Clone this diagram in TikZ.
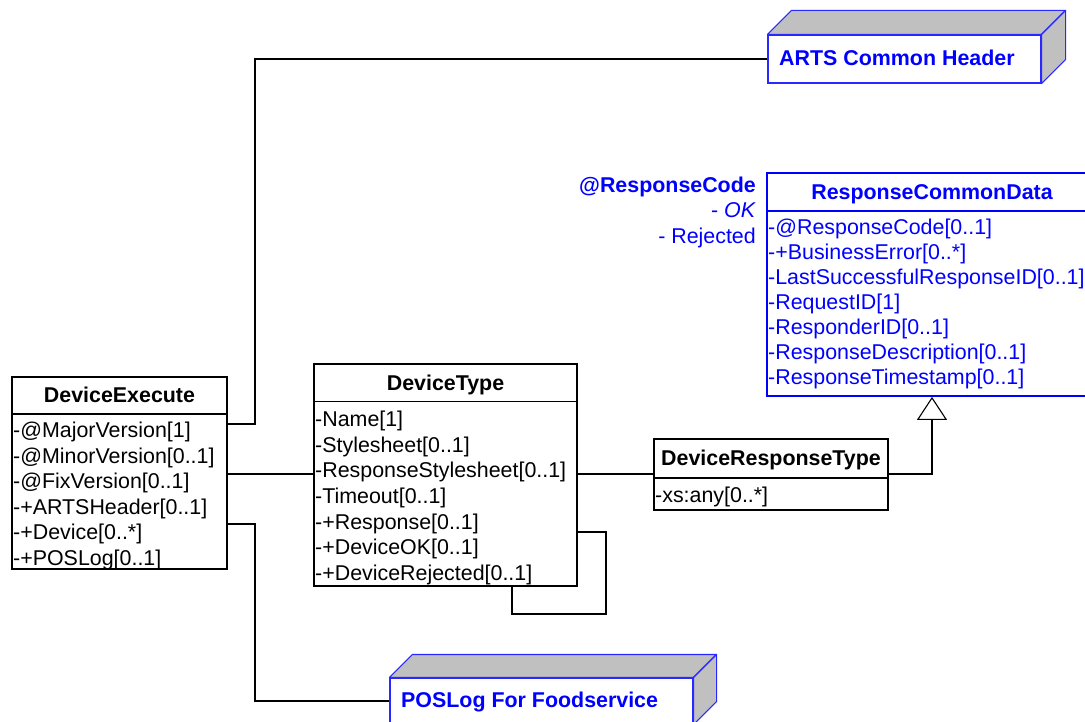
\documentclass[tikz,border=0pt]{standalone}
\usepackage{fontspec}
\setmainfont{Liberation Sans}
\usetikzlibrary{fit,arrows.meta}
\definecolor{umlblue}{RGB}{0,0,255}
\definecolor{edgeblue}{RGB}{40,40,255}
\definecolor{facegray}{RGB}{192,192,192}
\newcommand{\umlfont}{\fontsize{21.4}{25}\selectfont}
\tikzset{
  txt/.style={inner sep=0pt, font=\umlfont},
  attr/.style={txt, anchor=base west},
  head/.style={txt, anchor=base, font=\umlfont\bfseries},
  classbox/.style={draw=black, line width=1.6pt, inner sep=0pt, fill=white},
  bluebox/.style={draw=umlblue, line width=1.8pt, inner sep=0pt, fill=white},
  pkgfront/.style={draw=edgeblue, line width=1.1pt, inner sep=0pt, fill=white},
  pkgface/.style={draw=edgeblue, line width=1.1pt, fill=facegray, line join=round},
  conn/.style={draw=black, line width=1.1pt},
  generalization/.style={conn, -{Triangle[open, length=23pt, width=30pt, line width=1.1pt]}}
}
\begin{document}
\begin{tikzpicture}[x=1pt, y=-1pt]
\useasboundingbox (0,0) rectangle (1085,722);

% ---------- package boxes (3D) ----------
\node[pkgfront, fit={(768,35) (1041,83)}] (arts) {};
\filldraw[pkgface] (arts.north west) -- ++(24,-24) -- ([shift={(24,-24)}]arts.north east) -- (arts.north east) -- cycle;
\filldraw[pkgface] (arts.north east) -- ++(24,-24) -- ([shift={(24,-24)}]arts.south east) -- (arts.south east) -- cycle;
\node[txt, anchor=base west, text=umlblue, font=\umlfont\bfseries] (artslabel) at (779,66) {ARTS Common Header};

\node[pkgfront, fit={(390,678) (693,724)}] (pos) {};
\filldraw[pkgface] (pos.north west) -- ++(23,-23) -- ([shift={(23,-23)}]pos.north east) -- (pos.north east) -- cycle;
\filldraw[pkgface] (pos.north east) -- ++(23,-23) -- ([shift={(23,-23)}]pos.south east) -- (pos.south east) -- cycle;
\node[txt, anchor=base west, text=umlblue, font=\umlfont\bfseries] (poslabel) at (401,707.5) {POSLog For Foodservice};

% ---------- DeviceExecute ----------
\node[classbox, fit={(12,377) (227,569)}] (de) {};
\draw[line width=1.6pt] (de.west |- 0,414) -- (de.east |- 0,414);
\node[head] (dehead) at (119.5,402.5) {DeviceExecute};
\foreach \t [count=\i from 0] in {-@MajorVersion[1],-@MinorVersion[0..1],-@FixVersion[0..1],-+ARTSHeader[0..1],-+Device[0..*],-+POSLog[0..1]}
  \node[attr] (de-\i) at (13,{437.5+25.6*\i}) {\t};

% ---------- DeviceType ----------
\node[classbox, fit={(314,364) (577,586)}] (dt) {};
\draw[line width=1.6pt] (dt.west |- 0,401.5) -- (dt.east |- 0,401.5);
\node[head] (dthead) at (445.5,390.5) {DeviceType};
\foreach \t [count=\i from 0] in {-Name[1],-Stylesheet[0..1],-ResponseStylesheet[0..1],-Timeout[0..1],-+Response[0..1],-+DeviceOK[0..1],-+DeviceRejected[0..1]}
  \node[attr] (dt-\i) at (315,{426.5+25.67*\i}) {\t};

% ---------- DeviceResponseType ----------
\node[classbox, fit={(654,439) (888,510)}] (drt) {};
\draw[line width=1.6pt] (drt.west |- 0,478) -- (drt.east |- 0,478);
\node[head] (drthead) at (771,465.5) {DeviceResponseType};
\node[attr] (drt-0) at (655,502.5) {-xs:any[0..*]};

% ---------- ResponseCommonData ----------
\node[bluebox, fit={(767,173) (1097,396)}] (rcd) {};
\draw[draw=umlblue, line width=1.8pt] (rcd.west |- 0,211) -- (rcd.east |- 0,211);
\node[head, text=umlblue] (rcdhead) at (932,199.5) {ResponseCommonData};
\foreach \t [count=\i from 0] in {-@ResponseCode[0..1],-+BusinessError[0..*],-LastSuccessfulResponseID[0..1],-RequestID[1],-ResponderID[0..1],-ResponseDescription[0..1],-ResponseTimestamp[0..1]}
  \node[attr, text=umlblue] (rcd-\i) at (768,{234.2+25*\i}) {\t};

% enumeration note for @ResponseCode
\node[txt, anchor=base east, text=umlblue, font=\umlfont\bfseries] (rc) at (756,192.5) {@ResponseCode};
\node[txt, anchor=base east, text=umlblue] (rcok) at (756,217.5) {- \textit{OK}};
\node[txt, anchor=base east, text=umlblue] (rcrej) at (756,243.5) {- Rejected};

% ---------- connectors ----------
\draw[conn] (de.east |- 0,424) -- (255,424) |- (arts.west);
\draw[conn] (de.east |- 0,524) -- (255,524) |- (pos.west);
\draw[conn] (de.east |- 0,474) -- (dt.west |- 0,474);
\draw[conn] (dt.east |- 0,474) -- (drt.west |- 0,474);
\draw[conn] (dt.east |- 0,532) -- (606,532) -- (606,614) -| (dt.south -| 512,0);
\draw[generalization] (drt.east |- 0,474) -| (rcd.south);
\end{tikzpicture}
\end{document}
